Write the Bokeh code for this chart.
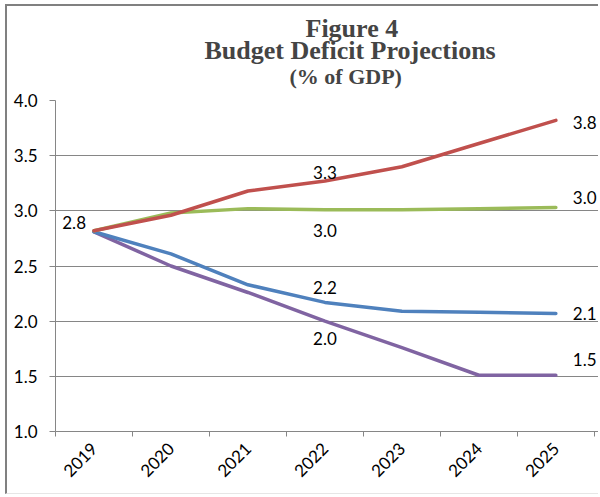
import math
from bokeh.plotting import figure
from bokeh.models import FixedTicker, Range1d, Title, ColumnDataSource
from bokeh.core.properties import value
from bokeh.embed import file_html
from bokeh.resources import INLINE

# ---- data ----
years = ["2019", "2020", "2021", "2022", "2023", "2024", "2025"]
red_vals = [2.82, 2.96, 3.18, 3.27, 3.40, 3.61, 3.82]
green_vals = [2.82, 2.98, 3.02, 3.01, 3.01, 3.02, 3.03]
blue_vals = [2.81, 2.61, 2.33, 2.17, 2.09, 2.08, 2.07]
purple_vals = [2.81, 2.50, 2.26, 2.00, 1.76, 1.51, 1.51]
y_ticks = [1.0, 1.5, 2.0, 2.5, 3.0, 3.5, 4.0]
title_lines = ["Figure 4", "Budget Deficit Projections", "(% of GDP)"]

# ---- styles ----
RED = "#C0504D"
GREEN = "#9BBB59"
BLUE = "#4F81BD"
PURPLE = "#8064A2"
GRAY = "#868686"
LAB_FONT = "Lato"
LAB_SIZE = "17px"
TITLE_FONT = "Liberation Serif"

n = len(years)
xc = [i + 0.5 for i in range(n)]

p = figure(width=593, height=490, output_backend="svg", toolbar_location=None,
           x_range=Range1d(0, n + 0.08), y_range=Range1d(y_ticks[0], y_ticks[-1]),
           min_border_left=48, min_border_right=0, min_border_top=94,
           min_border_bottom=65)
p.margin = (4, 0, 0, 5)
p.styles = {"border-top": "2px solid #808080", "border-left": "2px solid #808080",
            "border-right": "0px solid white", "border-bottom": "1px solid #e6e6e6"}
p.outline_line_color = None
p.background_fill_color = "white"
p.border_fill_color = "white"

# axes
p.xgrid.visible = False
p.ygrid.ticker = FixedTicker(ticks=y_ticks)
p.ygrid.grid_line_color = GRAY
p.ygrid.grid_line_width = 1

p.yaxis.ticker = FixedTicker(ticks=y_ticks)
p.yaxis.major_label_overrides = {t: f"{t:.1f}" for t in y_ticks}
p.yaxis.axis_line_color = GRAY
p.yaxis.major_tick_line_color = GRAY
p.yaxis.major_tick_in = 0
p.yaxis.major_tick_out = 6
p.yaxis.minor_tick_line_color = None
p.yaxis.major_label_standoff = 12
p.yaxis.major_label_text_font = LAB_FONT
p.yaxis.major_label_text_font_size = LAB_SIZE
p.yaxis.major_label_text_color = "black"

p.xaxis.ticker = FixedTicker(ticks=xc, minor_ticks=list(range(n + 1)))
p.xaxis.major_label_overrides = {x: y for x, y in zip(xc, years)}
p.xaxis.axis_line_color = GRAY
p.xaxis.major_tick_line_color = None
p.xaxis.minor_tick_line_color = GRAY
p.xaxis.minor_tick_in = 0
p.xaxis.minor_tick_out = 5
p.xaxis.major_label_orientation = math.pi / 4
p.xaxis.major_label_standoff = 8
p.xaxis.major_label_text_font = LAB_FONT
p.xaxis.major_label_text_font_size = LAB_SIZE
p.xaxis.major_label_text_color = "black"

# lines
for vals, col in [(purple_vals, PURPLE), (blue_vals, BLUE), (green_vals, GREEN), (red_vals, RED)]:
    p.line(xc, vals, line_color=col, line_width=3.5, line_cap="round", line_join="round")

# data labels: (series, index, align, baseline, dx, dy)
label_specs = [
    (red_vals, 0, "right", "middle", -8, -8),
    (red_vals, 3, "center", "middle", 0, -9),
    (green_vals, 3, "center", "middle", 0, 21),
    (blue_vals, 3, "center", "middle", 0, -15),
    (purple_vals, 3, "center", "middle", 0, 17),
    (red_vals, 6, "left", "middle", 17, 2),
    (green_vals, 6, "left", "middle", 17, -10),
    (blue_vals, 6, "left", "middle", 17, 0),
    (purple_vals, 6, "left", "middle", 17, -16),
]
src = ColumnDataSource(dict(
    x=[xc[i] for s, i, *_ in label_specs],
    y=[s[i] for s, i, *_ in label_specs],
    t=[f"{s[i]:.1f}" for s, i, *_ in label_specs],
    al=[a for _, _, a, *_ in label_specs],
    bl=[b for _, _, _, b, *_ in label_specs],
    dx=[d[4] for d in label_specs],
    dy=[d[5] for d in label_specs],
))
p.text(x="x", y="y", text="t", text_align="al", text_baseline="bl",
       x_offset="dx", y_offset="dy", source=src,
       text_font=value(LAB_FONT), text_font_size=LAB_SIZE, text_color="black")

# title: p.title is outermost; added titles stack outward from the plot frame
p.title.text = title_lines[0]
p.title.align = "left"
p.title.offset = 250
p.title.text_font = TITLE_FONT
p.title.text_font_style = "bold"
p.title.text_font_size = "26px"
p.title.standoff = 10
for txt, fs, so, off in [(title_lines[2], "22px", 23, 234), (title_lines[1], "26px", -28, 149)]:
    p.add_layout(Title(text=txt, align="left", offset=off, text_font=TITLE_FONT,
                       text_font_style="bold", text_font_size=fs, standoff=so), "above")

open("out.html", "w").write(file_html(p, INLINE))
